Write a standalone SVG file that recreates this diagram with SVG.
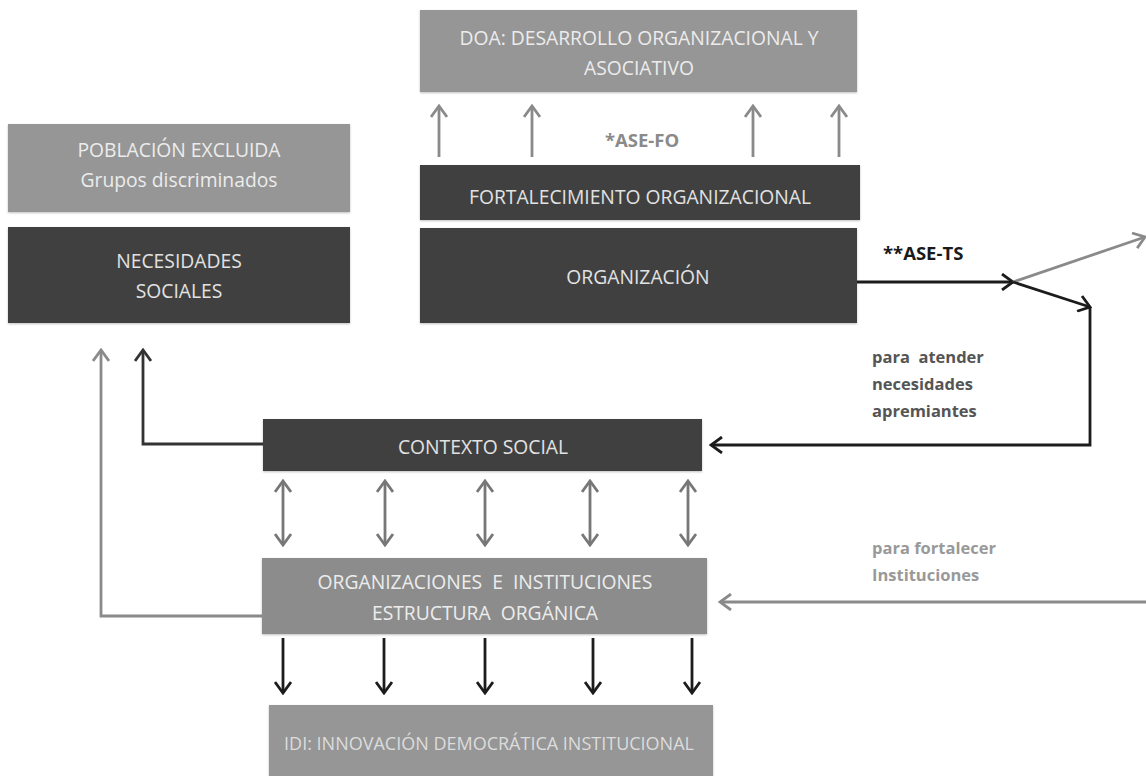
<svg xmlns="http://www.w3.org/2000/svg" width="1146" height="776" viewBox="0 0 1146 776">
<style>
.t{font-family:"Open Sans","Liberation Sans",sans-serif;text-anchor:middle}
.lt{fill:#ececec;font-size:19.3px}
.dk{fill:#e2e2e2;font-size:19.3px}
.bxl{fill:#969696}
.bxd{fill:#404040}
.bxm{fill:#8c8c8c}
.lbl{font-family:"Open Sans","Liberation Sans",sans-serif;font-weight:bold}
</style>
<defs>
<filter id="sh" x="-5%" y="-5%" width="110%" height="115%"><feDropShadow dx="0" dy="1" stdDeviation="1" flood-color="#000" flood-opacity="0.25"/></filter>
<marker id="mg" viewBox="0 0 14 18" refX="12" refY="9" markerWidth="14" markerHeight="18" orient="auto-start-reverse" markerUnits="userSpaceOnUse"><path d="M1,1 L12,9 L1,17" fill="none" stroke="#8a8a8a" stroke-width="2.8"/></marker>
<marker id="mm" viewBox="0 0 14 18" refX="12" refY="9" markerWidth="14" markerHeight="18" orient="auto-start-reverse" markerUnits="userSpaceOnUse"><path d="M1,1 L12,9 L1,17" fill="none" stroke="#777" stroke-width="2.8"/></marker>
<marker id="mk" viewBox="0 0 14 18" refX="12" refY="9" markerWidth="14" markerHeight="18" orient="auto-start-reverse" markerUnits="userSpaceOnUse"><path d="M1,1 L12,9 L1,17" fill="none" stroke="#1c1c1c" stroke-width="2.8"/></marker>
<marker id="md" viewBox="0 0 14 18" refX="12" refY="9" markerWidth="14" markerHeight="18" orient="auto-start-reverse" markerUnits="userSpaceOnUse"><path d="M1,1 L12,9 L1,17" fill="none" stroke="#333" stroke-width="2.8"/></marker>
</defs>
<rect width="1146" height="776" fill="#fff"/>

<g id="doa">
<rect class="bxl" x="420" y="10" width="437" height="82" filter="url(#sh)"/>
<text class="t lt" x="639" y="45">DOA: DESARROLLO ORGANIZACIONAL Y</text>
<text class="t lt" x="639" y="75">ASOCIATIVO</text>
</g>
<g id="fortalecimiento">
<rect class="bxd" x="420" y="165" width="440" height="55" fill="#3c3c3c" filter="url(#sh)"/>
<text class="t dk" x="640" y="204">FORTALECIMIENTO ORGANIZACIONAL</text>
</g>
<g id="organizacion">
<rect class="bxd" x="420" y="228" width="437" height="95" filter="url(#sh)"/>
<text class="t dk" x="638" y="284">ORGANIZACIÓN</text>
</g>
<g id="poblacion">
<rect class="bxl" x="8" y="124" width="342" height="88" filter="url(#sh)"/>
<text class="t lt" x="179" y="157">POBLACIÓN EXCLUIDA</text>
<text class="t lt" x="179" y="187">Grupos discriminados</text>
</g>
<g id="necesidades">
<rect class="bxd" x="8" y="227" width="342" height="96" filter="url(#sh)"/>
<text class="t dk" x="179" y="268">NECESIDADES</text>
<text class="t dk" x="179" y="298">SOCIALES</text>
</g>
<g id="contexto">
<rect class="bxd" x="263" y="419" width="439" height="52" fill="#383838" filter="url(#sh)"/>
<text class="t dk" x="483" y="454">CONTEXTO SOCIAL</text>
</g>
<g id="organizaciones">
<rect class="bxm" x="262" y="558" width="445" height="76" filter="url(#sh)"/>
<text class="t lt" x="485" y="589" xml:space="preserve">ORGANIZACIONES  E  INSTITUCIONES</text>
<text class="t lt" x="485" y="620" xml:space="preserve">ESTRUCTURA  ORGÁNICA</text>
</g>
<g id="idi">
<rect class="bxl" x="269" y="705" width="444" height="80" filter="url(#sh)"/>
<text class="t" x="489" y="750" fill="#dcdcdc" font-size="18">IDI: INNOVACIÓN DEMOCRÁTICA INSTITUCIONAL</text>
</g>

<g id="connectors" fill="none" stroke-width="2.8">
<g stroke="#8a8a8a" marker-end="url(#mg)">
<line x1="439" y1="157" x2="439" y2="106"/>
<line x1="532" y1="157" x2="532" y2="106"/>
<line x1="753" y1="157" x2="753" y2="106"/>
<line x1="839" y1="157" x2="839" y2="106"/>
</g>
<g stroke="#777" marker-start="url(#mm)" marker-end="url(#mm)">
<line x1="283" y1="481" x2="283" y2="545"/>
<line x1="385" y1="481" x2="385" y2="545"/>
<line x1="485" y1="481" x2="485" y2="545"/>
<line x1="590" y1="481" x2="590" y2="545"/>
<line x1="688" y1="481" x2="688" y2="545"/>
</g>
<g stroke="#1c1c1c" marker-end="url(#mk)">
<line x1="283" y1="638" x2="283" y2="693"/>
<line x1="384" y1="638" x2="384" y2="693"/>
<line x1="485" y1="638" x2="485" y2="693"/>
<line x1="593" y1="638" x2="593" y2="693"/>
<line x1="692" y1="638" x2="692" y2="693"/>
</g>
<polyline points="262,616 101,616 101,350" stroke="#8a8a8a" marker-end="url(#mg)"/>
<polyline points="263,444 143,444 143,350" stroke="#333" marker-end="url(#md)"/>
<line x1="857" y1="282" x2="1013" y2="282" stroke="#1c1c1c" marker-end="url(#mk)"/>
<line x1="1013" y1="282" x2="1145" y2="237" stroke="#8a8a8a" marker-end="url(#mg)"/>
<line x1="1013" y1="282" x2="1090" y2="307" stroke="#1c1c1c" marker-end="url(#mk)"/>
<polyline points="1090,307 1090,445 711,445" stroke="#1c1c1c" marker-end="url(#mk)"/>
<line x1="1146" y1="602" x2="720" y2="602" stroke="#8a8a8a" marker-end="url(#mg)"/>
</g>

<text class="lbl" x="642" y="147" fill="#8a8a8a" font-size="18.5" font-weight="600" text-anchor="middle">*ASE-FO</text>
<text class="lbl" x="883" y="260" fill="#1a1a1a" font-size="18.5">**ASE-TS</text>
<g class="lbl" fill="#555" font-size="16.5">
<text x="872" y="363" xml:space="preserve">para  atender</text>
<text x="872" y="390">necesidades</text>
<text x="872" y="417">apremiantes</text>
</g>
<g class="lbl" fill="#999" font-size="16.5">
<text x="872" y="554">para fortalecer</text>
<text x="872" y="581">Instituciones</text>
</g>
</svg>
